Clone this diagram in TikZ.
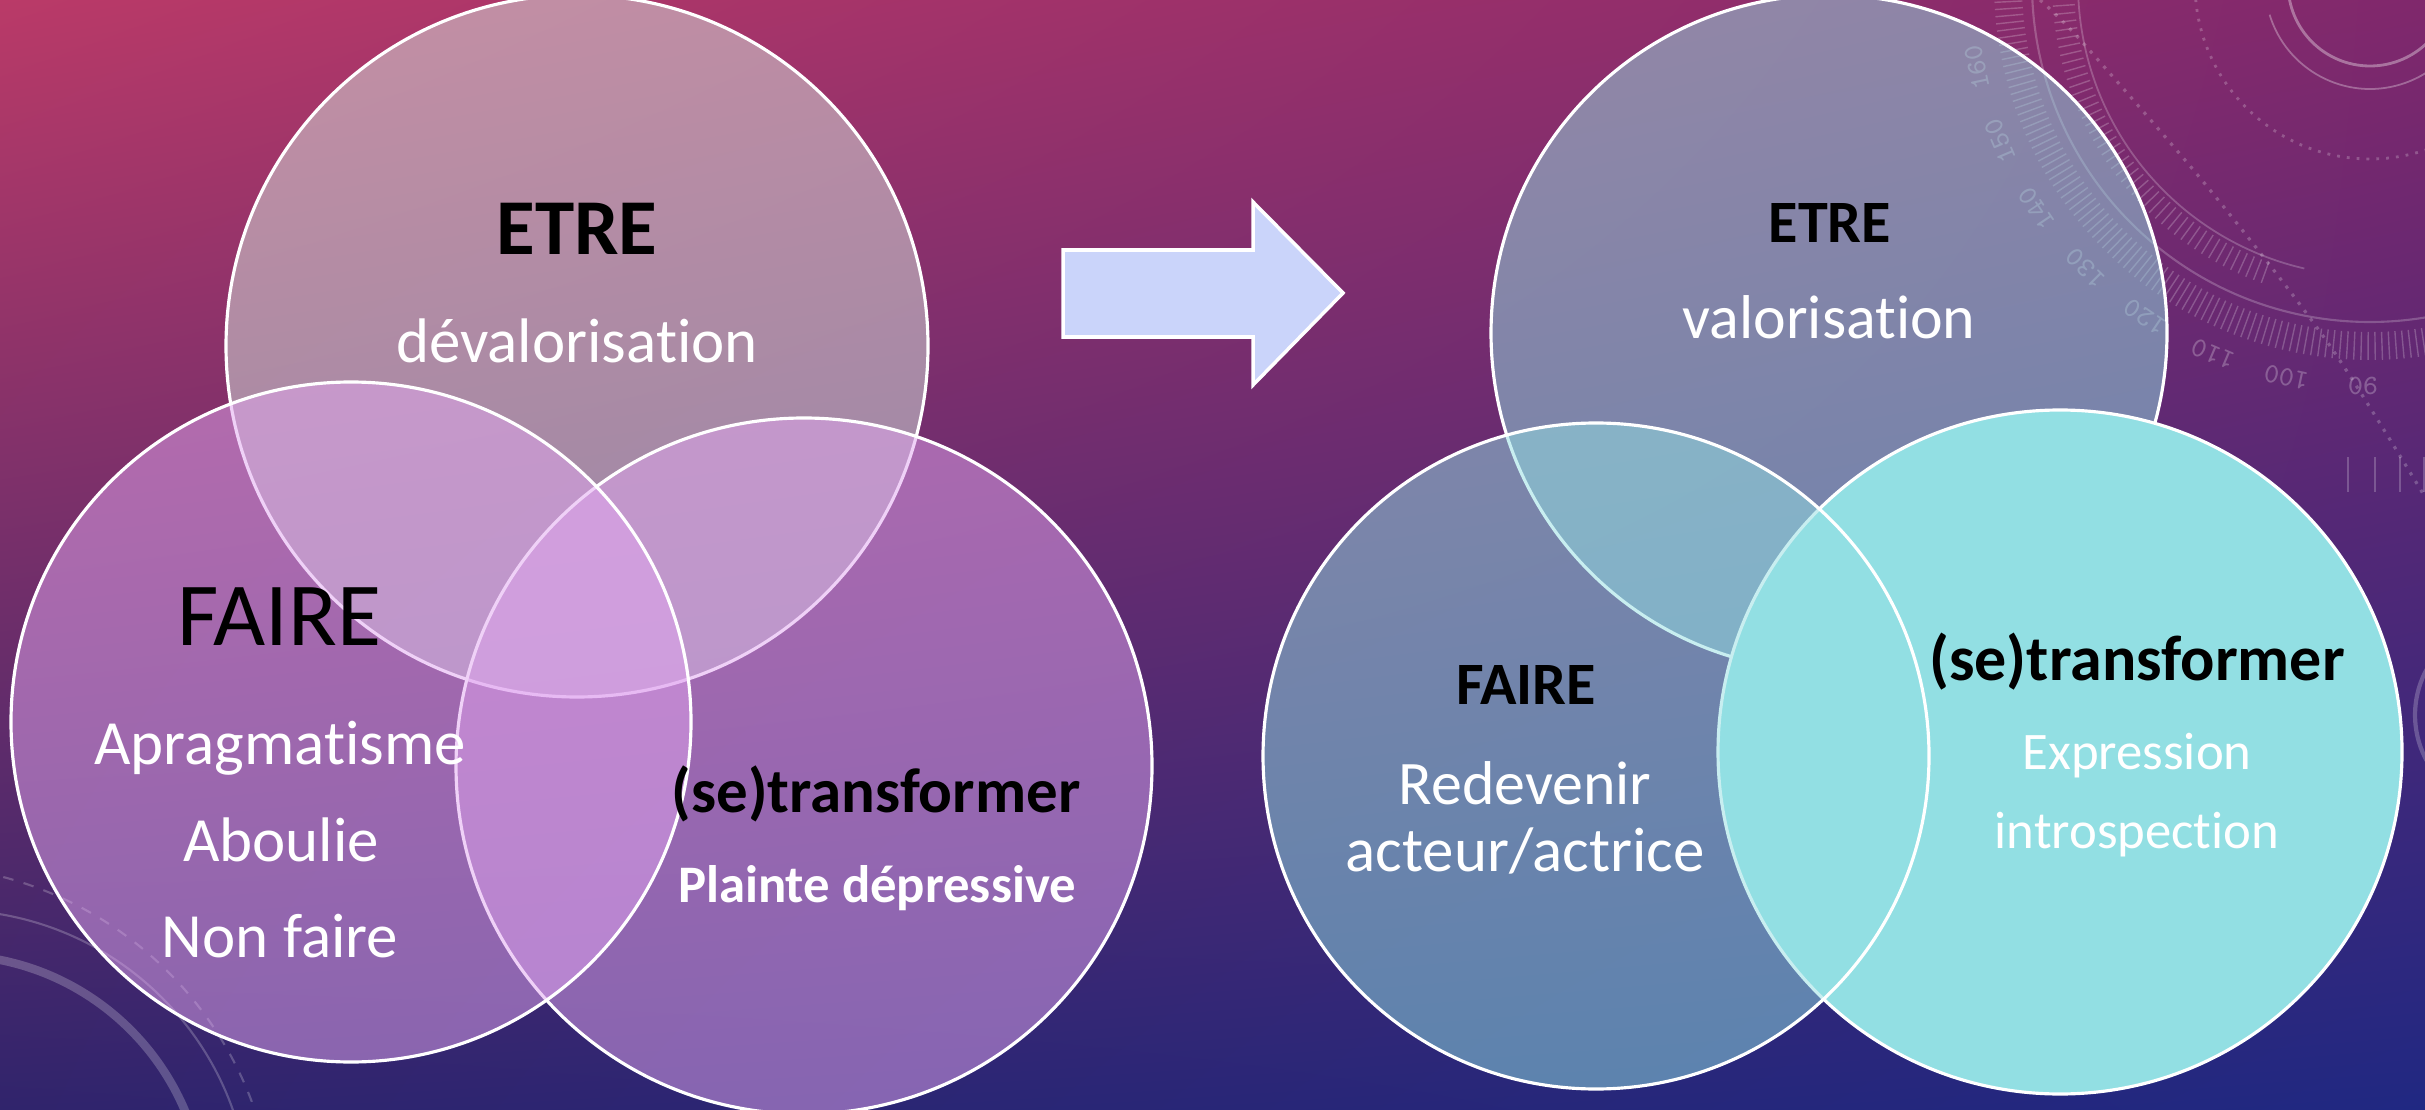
\documentclass[tikz,border=0pt]{standalone}
\usepackage{fontspec}
\setmainfont{Carlito}[Ligatures={NoCommon,NoContextual}]
\usetikzlibrary{calc,shadings}
\definecolor{bgUL}{RGB}{186,58,104}
\definecolor{bgUR}{RGB}{128,40,108}
\definecolor{bgLL}{RGB}{48,36,108}
\definecolor{bgLR}{RGB}{32,40,130}
\definecolor{mintgrey}{RGB}{214,230,223}
\definecolor{lavender}{RGB}{225,165,240}
\definecolor{cyanlight}{RGB}{146,223,227}
\definecolor{arrowfill}{RGB}{202,212,250}
\tikzset{
  ring/.style={draw=white, line width=0.9pt},
  etreleft/.style={ring, fill=mintgrey, fill opacity=0.5},
  lavcircle/.style={ring, fill=lavender, fill opacity=0.5},
  cyanhalf/.style={ring, fill=cyanlight, fill opacity=0.5},
  cyanfull/.style={ring, fill=cyanlight},
  lbl/.style={inner sep=0pt, anchor=base},
  deco/.style={draw=white, draw opacity=0.22},
  gaugenum/.style={inner sep=0pt, text=white, text opacity=0.25, font=\ttfamily\fontsize{8}{8}\selectfont}
}
\begin{document}
\begin{tikzpicture}[x=0.01cm,y=-0.01cm]
\useasboundingbox (0,0) rectangle (2425,1110);
\begin{scope}
\clip (0,0) rectangle (2425,1110);
\shade[upper left=bgUL,upper right=bgUR,lower left=bgLL,lower right=bgLR] (0,0) rectangle (2425,1110);

% background decorations (gauge, top right)
\coordinate (g) at (2370,-16);
\draw[deco, draw opacity=0.35, line width=0.8pt] (g) circle (82);
\draw[deco, draw opacity=0.3, line width=0.5pt] ($(g)+(163:105)$) arc (163:-10:105);
\draw[deco, line width=0.8pt, dotted] (g) circle (175);
\draw[deco, line width=0.5pt] ($(g)+(103:292)$) arc (103:200:292);
\draw[deco, line width=0.6pt] ($(g)+(40:338)$) arc (40:200:338);
\foreach \a in {76,77.1,...,178} \draw[deco, line width=0.4pt] ($(g)+(\a:348)$) -- ($(g)+(\a:376)$);
\foreach \a in {110,111.5,...,180} \draw[deco, line width=0.4pt] ($(g)+(\a:296)$) -- ($(g)+(\a:318)$);
\foreach \n/\a in {80/80,90/91,100/102,110/113,120/124,130/135,140/146,150/157,160/168}
  \node[gaugenum, rotate=-\a-90] (gn\n) at ($(g)+(\a:402)$) {\n};
\draw[deco, line width=0.9pt, dotted] plot[smooth] coordinates {(2040,0) (2083,43) (2210,190) (2328,343) (2425,497)};
\foreach \x in {2348,2375,2400,2424} \draw[deco, line width=0.6pt] (\x,457) -- (\x,492);
\draw[deco, line width=1.2pt] (2510,715) circle (95);

% background decorations (bottom left)
\draw[deco, line width=2.4pt] (-50,1210) circle (255);
\draw[deco, line width=0.6pt] (-50,1210) circle (300);
\draw[deco, line width=0.6pt, dashed] (-90,1230) circle (365);

% left Venn
\path[etreleft] (577,346) circle (351);
\path[lavcircle] (804,766) circle (348);
\path[lavcircle] (351,722) circle (340);

% arrow
\draw[draw=white, line width=1pt, fill=arrowfill, line join=miter]
  (1063,250) -- (1253,250) -- (1253,202) -- (1343,293) -- (1253,385) -- (1253,337) -- (1063,337) -- cycle;

% right Venn
\path[cyanhalf] (1829,333) circle (338);
\path[cyanfull] (2060,752) circle (342);
\path[cyanhalf] (1596,756) circle (333);
\end{scope}

% left labels
\node[lbl, font=\bfseries\fontsize{22.5}{24}\selectfont] (etreL) at (577,255) {ETRE};
\node[lbl, text=white, font=\fontsize{17.9}{20}\selectfont] (devalo) at (577,363) {dévalorisation};
\node[lbl, font=\fontsize{25.6}{28}\selectfont] (faireL) at (279,645) {FAIRE};
\node[lbl, text=white, font=\fontsize{17.9}{20}\selectfont] (aprag) at (280,764) {Apragmatisme};
\node[lbl, text=white, font=\fontsize{17.9}{20}\selectfont] (aboulie) at (281,861) {Aboulie};
\node[lbl, text=white, font=\fontsize{17.9}{20}\selectfont] (nonfaire) at (280,957) {Non faire};
\node[lbl, font=\bfseries\fontsize{17.9}{20}\selectfont] (transL) at (876,812) {(se)transformer};
\node[lbl, text=white, font=\bfseries\fontsize{15}{17}\selectfont] (plainte) at (877,902) {Plainte dépressive};

% right labels
\node[lbl, font=\bfseries\fontsize{17.1}{19}\selectfont] (etreR) at (1830,243) {ETRE};
\node[lbl, text=white, font=\fontsize{17.6}{20}\selectfont] (valo) at (1829,339) {valorisation};
\node[lbl, font=\bfseries\fontsize{17.1}{19}\selectfont] (faireR) at (1526,704) {FAIRE};
\node[lbl, text=white, font=\fontsize{17.6}{20}\selectfont] (redev) at (1525,804) {Redevenir};
\node[lbl, text=white, font=\fontsize{17.9}{20}\selectfont] (acteur) at (1525,871) {acteur/actrice};
\node[lbl, font=\bfseries\fontsize{18.2}{20}\selectfont] (transR) at (2137,680) {(se)transformer};
\node[lbl, text=white, font=\fontsize{15}{17}\selectfont] (expr) at (2137,769) {Expression};
\node[lbl, text=white, font=\fontsize{15}{17}\selectfont] (intro) at (2137,848) {introspection};
\end{tikzpicture}
\end{document}
